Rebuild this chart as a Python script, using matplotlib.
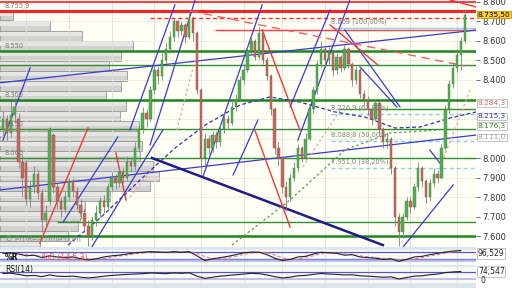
import matplotlib
matplotlib.use("Agg")
import matplotlib.pyplot as plt
from matplotlib.patches import Rectangle
import matplotlib.transforms as mtransforms
import numpy as np

# ---------------- data ----------------
opens = [8150,8200,8130,8220,8200,7980,7975,7790,7850,7920,7820,7680,7780,8120,7850,7780,7740,7800,7880,7830,
         7760,7720,7650,7600,7680,7720,7780,7750,7850,7900,7870,7930,7900,7980,7960,8050,8150,8230,8200,8350,
         8450,8420,8500,8560,8620,8700,8650,8680,8620,8720,8640,8350,8000,8100,8050,8120,8080,8150,8200,8180,
         8260,8300,8400,8450,8550,8600,8520,8640,8500,8420,8250,8050,8000,7850,7800,7900,7950,8050,8000,8100,
         8250,8350,8480,8560,8500,8540,8450,8520,8460,8560,8480,8400,8450,8330,8300,8250,8200,8280,8150,8080,
         8100,7950,7700,7620,7700,7780,7750,7850,7950,7880,7800,7870,7920,7900,8050,8250,8380,8460,8530,8600]
closes = [8200,8130,8220,8260,7980,7900,7790,7850,7920,7820,7680,7720,8150,7850,7780,7740,7800,7880,7830,7760,
          7720,7650,7600,7680,7720,7780,7750,7850,7900,7870,7930,7900,7980,7960,8050,8150,8230,8200,8350,8450,
          8420,8500,8560,8620,8700,8650,8680,8620,8720,8640,8350,8000,8100,8050,8120,8080,8150,8200,8180,8260,
          8300,8400,8450,8550,8600,8520,8640,8500,8420,8250,8050,8000,7850,7800,7900,7950,8050,8000,8100,8250,
          8350,8480,8560,8500,8540,8450,8520,8460,8560,8480,8400,8450,8330,8300,8250,8200,8280,8150,8080,8100,
          7950,7700,7620,7700,7780,7750,7850,7950,7880,7800,7870,7920,7900,8050,8250,8380,8460,8530,8600,8735.5]
highs = [8240,8220,8300,8310,8230,8020,7990,7880,7960,7940,7840,7760,8160,8130,7870,7800,7830,7900,7900,7850,
         7790,7740,7680,7700,7760,7800,7810,7870,7930,7920,7960,7950,8010,8000,8080,8170,8260,8250,8370,8480,
         8470,8540,8590,8650,8720,8710,8700,8690,8755,8730,8650,8360,8130,8120,8140,8140,8170,8230,8220,8290,
         8330,8420,8480,8570,8630,8610,8670,8650,8520,8430,8260,8080,8010,7880,7920,7980,8070,8060,8130,8270,
         8370,8500,8600,8570,8570,8550,8540,8530,8580,8570,8490,8470,8460,8350,8320,8260,8300,8290,8160,8130,
         8110,7960,7720,7720,7800,7800,7870,7980,7960,7890,7890,7950,7940,8070,8270,8400,8490,8560,8620,8765]
lows = [8120,8090,8110,8180,7950,7800,7760,7750,7820,7790,7620,7650,7760,7820,7740,7700,7720,7780,7800,7740,
        7690,7620,7550,7580,7650,7700,7720,7740,7830,7840,7850,7870,7880,7930,7940,8030,8130,8160,8190,8330,
        8380,8400,8480,8540,8600,8620,8630,8590,8610,8600,8330,7920,7960,8020,8030,8050,8060,8130,8150,8170,
        8240,8290,8380,8440,8530,8500,8510,8480,8400,8220,8020,7960,7820,7730,7780,7880,7930,7980,7990,8090,
        8230,8330,8460,8470,8480,8420,8430,8440,8450,8460,8370,8380,8310,8270,8220,8170,8190,8120,8050,8050,
        7920,7650,7550,7590,7680,7720,7740,7830,7850,7770,7780,7850,7870,7890,8040,8230,8360,8440,8450,8590]

price_ticks = [7600, 7700, 7800, 7900, 8000, 8100, 8200, 8300, 8400, 8500, 8600, 8700, 8800]
hidden_ticks = [8100, 8200, 8300]   # covered by the value boxes in the reference

# volume profile (bin bottoms, relative volume)
profile_bottom = [8705, 8653, 8602, 8551, 8499, 8448, 8397, 8345, 8294, 8243, 8192, 8140,
                  8089, 8038, 7987, 7935, 7884, 7833, 7781, 7730, 7679, 7628, 7576, 7525]
profile_volume = [13, 50, 82, 133, 121, 109, 127, 121, 106, 126, 120, 139,
                  138, 142, 140, 153, 159, 150, 110, 85, 80, 78, 68, 40]

# horizontal support / resistance levels
green_thick = [8550, 8300, 7600]
green_thin = [8477, 8150, 8000]
green_thin_partial = [(8250, 86.5), (7670, 14.0)]  # (price, start index)
red_levels = [8800, 8755.9]
red_dashed_level = (8718, 37.9)
red_thin_level = (8656, 54.6)
fib_levels = [8669.0, 8226.9, 8088.8, 7951.0]
fib_labels = ["8.669 (100,00%)", "8.226,9 (61,80%)", "8.088,8 (50,00%)", "7.951,0 (38,20%)"]
left_labels = [(8755.9, "8.755,9"), (8550, "8.550"), (8300, "8.300"), (8150, "8.150"), (8000, "8.000")]

# trend lines (index, price)
blue_lines = [((-1, 8385), (122, 8656)), ((-1, 7836), (122, 8118)),
              ((0, 8092), (7.0, 8462)), ((32.7, 8144), (44.3, 8785)), ((37.9, 8067), (49.5, 8810)),
              ((15.5, 7672), (29.6, 8108)), ((22.9, 7544), (41.2, 8144)), ((51.5, 7903), (66.8, 8785)),
              ((59.3, 7913), (65.7, 8195)), ((74.0, 8262), (84.3, 8759)), ((76.0, 8092), (89.4, 8810)),
              ((88.1, 8656), (102.3, 8262)), ((92.0, 8467), (101.5, 8262)), ((103.1, 7544), (116.0, 7862)),
              ((110.0, 8041), (112.6, 7974))]
navy_line = ((38.4, 8000), (97.9, 7554))
red_lines = [((9.5, 7564), (21.9, 8154)), ((66.8, 8656), (76.5, 8144)), ((64.9, 8144), (74.0, 7646)),
             ((84.3, 8682), (96.6, 8477)), ((115.2, 8810), (121.9, 8774)), ((29.1, 8026), (31.7, 7785))]
red_dash_line = ((48.2, 8754), (119.1, 8472))
pink_lines = [((32.7, 7800), (39.7, 7974)), ((77.3, 7954), (86.9, 8246)),
              ((113.1, 7979), (120.4, 8349)), ((44.8, 8144), (49.5, 8503))]
navy_dash_x = [16.75, 25.0, 35.3, 44.3, 52.1, 61.1, 68.8, 76.5, 85.6, 93.3, 101.0, 107.5, 115.2, 121.9]
navy_dash_y = [7554, 7692, 7887, 8051, 8169, 8272, 8313, 8287, 8236, 8210, 8154, 8159, 8205, 8236]
green_dash_x = [59.0, 74.0, 88.1, 99.7, 112.6]
green_dash_y = [7554, 7785, 8041, 8128, 8144]
vgrid = [6, 17, 28, 39, 51, 62, 72, 83, 94, 105, 117]

# oscillators (every second bar)
stoch_k = [70,75,64,47,53,30,47,36,30,36,19,8,19,36,47,53,64,75,81,87,83,79,87,81,87,47,2,19,30,42,
           58,75,83,81,58,25,2,13,36,42,64,81,75,70,53,58,36,30,25,13,19,-5,13,36,42,58,70,83,92,96.5]
stoch_d = [72,72,68,58,52,42,42,38,36,34,28,18,15,22,34,45,55,65,74,82,85,82,83,83,85,70,40,20,18,30,
           43,60,72,80,75,55,28,12,18,32,48,65,75,74,65,58,48,38,30,22,18,10,8,18,30,45,58,72,84,92]
rsi = [63,65,58,50,52,45,55,48,46,48,42,38,42,48,52,55,58,60,62,66,64,62,66,64,67,48,35,42,48,52,
       56,60,64,62,55,45,38,42,50,52,58,63,60,58,55,56,50,48,45,42,44,32,40,48,50,56,60,68,72,74.5]

# value boxes on the price scale: (placement price, text, text colour, face, edge)
right_boxes = [(8735.5, "8.735,50", "#000000", "#ffcc33", "#c89600"),
               (8282.0, "8.284,3", "#e06666", "#ffffff", "#bbbbbb"),
               (8213.0, "8.215,3", "#3333aa", "#ffffff", "#bbbbbb"),
               (8163.0, "8.176,3", "#338833", "#ffffff", "#bbbbbb"),
               (8106.0, "8.111,0", "#a0a0a0", "#ffffff", "#bbbbbb")]

# ---------------- figure ----------------
def fmt(v):
    return f"{v:,.0f}".replace(",", ".")

fig = plt.figure(figsize=(5.12, 2.88), dpi=100, facecolor="white")
fig.patches.append(Rectangle((0, 0), 476/512, 41/288, transform=fig.transFigure,
                             facecolor="#dbe7ee", edgecolor="none", zorder=-5))
rect_main = [0, 41/288, 476/512, 247/288]
YLIM = (7544, 8810)
XLIM = (-0.77, 121.9)

axp = fig.add_axes(rect_main)
axp.set_facecolor("#fffff5")
axp.set_xlim(0, 476)
axp.set_ylim(*YLIM)
axp.barh(profile_bottom, profile_volume, height=51.3, align="edge", left=0,
         color="#d2d2d0", edgecolor="#999997", linewidth=0.6)
axp.barh([b + 24 for b in profile_bottom], profile_volume, height=22, align="edge", left=0,
         color="#e6e6e4", edgecolor="none")
axp.set_xticks([]); axp.set_yticks([])
for s in axp.spines.values():
    s.set_visible(False)

ax = fig.add_axes(rect_main)
ax.set_facecolor("none")
ax.set_xlim(*XLIM)
ax.set_ylim(*YLIM)
for s in ax.spines.values():
    s.set_visible(False)
ax.set_xticks([])
ax.yaxis.tick_right()
ax.set_yticks(price_ticks)
ax.set_yticklabels(["" if v in hidden_ticks else fmt(v) for v in price_ticks])
ax.tick_params(axis="y", labelsize=6, length=3, width=0.6, color="#555555",
               labelcolor="#333333", pad=1.5)

for v in price_ticks:
    ax.axhline(v, color="#ebebe0", lw=0.6, zorder=0.5)
for xg in vgrid:
    ax.axvline(xg, color="#e0e0d6", lw=0.6, zorder=0.5)

# horizontal levels
for v in green_thick:
    ax.axhline(v, color="#1e861e", lw=1.8, zorder=3)
for v in green_thin:
    ax.axhline(v, color="#2f8f2f", lw=1.0, zorder=3)
for v, x0 in green_thin_partial:
    ax.hlines(v, x0, XLIM[1], color="#2f8f2f", lw=1.0, zorder=3)
ax.axhline(red_levels[0], color="#ff3030", lw=1.3, zorder=3)
ax.axhline(red_levels[1], color="#ff2020", lw=2.2, zorder=3)
ax.hlines(red_dashed_level[0], red_dashed_level[1], XLIM[1], color="#ff3030", lw=1.0,
          linestyles=(0, (3, 2)), zorder=3)
ax.hlines(red_thin_level[0], red_thin_level[1], XLIM[1], color="#ff4040", lw=1.0, zorder=3)

# fib levels
fx0 = 84.5
for i, (v, lab) in enumerate(zip(fib_levels, fib_labels)):
    ls = "-" if i == 0 else (0, (3, 2))
    ax.hlines(v, fx0, XLIM[1], color="#8ed0f4", lw=1.0, linestyles=ls, zorder=3)
    ax.text(fx0, v + 12, lab, fontsize=4.8, color="#808080", va="bottom", ha="left", zorder=6)

for v, lab in left_labels:
    ax.text(0.5, v + 8, lab, fontsize=4.8, color="#7a7a7a", va="bottom", ha="left", zorder=6)

# trend lines
for (a, b) in blue_lines:
    ax.plot([a[0], b[0]], [a[1], b[1]], color="#3a3ad0", lw=0.9, zorder=4)
ax.plot([navy_line[0][0], navy_line[1][0]], [navy_line[0][1], navy_line[1][1]],
        color="#1c1c8c", lw=1.8, zorder=4)
for (a, b) in red_lines:
    ax.plot([a[0], b[0]], [a[1], b[1]], color="#f03838", lw=1.0, zorder=4)
ax.plot([red_dash_line[0][0], red_dash_line[1][0]], [red_dash_line[0][1], red_dash_line[1][1]],
        color="#f06060", lw=1.0, ls=(0, (6, 4)), zorder=4)
for (a, b) in pink_lines:
    ax.plot([a[0], b[0]], [a[1], b[1]], color="#f4a0a0", lw=0.9, ls=(0, (2, 2)), zorder=4)
ax.plot(navy_dash_x, navy_dash_y, color="#3030b0", lw=0.9, ls=(0, (3, 2)), zorder=4)
ax.plot(green_dash_x, green_dash_y, color="#5a9a5a", lw=0.9, ls=(0, (2, 2)), zorder=4)

# candles
idx = np.arange(len(closes))
o = np.array(opens); c = np.array(closes)
up = c >= o
ax.vlines(idx, lows, highs, color="#808080", lw=0.6, zorder=5)
ax.bar(idx[up], (c - o)[up], bottom=o[up], width=0.62, color="#52b052",
       edgecolor="#3d7d3d", linewidth=0.3, zorder=5)
ax.bar(idx[~up], (o - c)[~up], bottom=c[~up], width=0.62, color="#c46a62",
       edgecolor="#8a4a44", linewidth=0.3, zorder=5)

ax.text(0.5, 7570, "\u00a9 ProRealTime.com", fontsize=5.5, color="#909090", zorder=6)

# right boxes
trans = mtransforms.blended_transform_factory(ax.transAxes, ax.transData)
for v, lab, tc, fc, ec in right_boxes:
    ax.text(1.004, v, lab, transform=trans, fontsize=5.3, color=tc, va="center", ha="left",
            zorder=10, clip_on=False,
            bbox=dict(boxstyle="square,pad=0.1", facecolor=fc, edgecolor=ec, lw=0.6))

# ---------------- oscillators ----------------
xs = idx[::2]
ax1 = fig.add_axes([0, 23/288, 476/512, 15/288])
ax1.set_facecolor("#fbfbf3")
ax1.set_xlim(*XLIM); ax1.set_ylim(-40, 102)
ax1.set_xticks([]); ax1.set_yticks([])
for s in ax1.spines.values():
    s.set_visible(False)
for xg in vgrid:
    ax1.axvline(xg, color="#e0e0d6", lw=0.6)
ax1.axhline(80, color="#5555dd", lw=0.9)
ax1.axhline(20, color="#7b7be0", lw=1.0)
ax1.axhline(0, color="#b4b4ee", lw=1.2)
ax1.plot(xs, stoch_d, color="#f08080", lw=0.8, ls=(0, (3, 2)))
ax1.plot(xs, stoch_k, color="#222222", lw=0.8)
ax1.text(0.5, 30, "%R", fontsize=5.5, color="#111111", fontweight="bold", va="center")
ax1.text(10, 30, "%D (14,5,3)", fontsize=5.5, color="#ee5555", va="center")
t1 = mtransforms.blended_transform_factory(ax1.transAxes, ax1.transData)
ax1.text(1.004, 70, "96,529", transform=t1, fontsize=5.5, color="#222222", va="center",
         clip_on=False, bbox=dict(boxstyle="square,pad=0.1", facecolor="white", edgecolor="#bbbbbb", lw=0.6))

ax2 = fig.add_axes([0, 5/288, 476/512, 16/288])
ax2.set_facecolor("#fbfbf3")
ax2.set_xlim(*XLIM); ax2.set_ylim(9, 100)
ax2.set_xticks([]); ax2.set_yticks([])
for s in ax2.spines.values():
    s.set_visible(False)
for xg in vgrid:
    ax2.axvline(xg, color="#e0e0d6", lw=0.6)
ax2.axhline(70, color="#5555dd", lw=0.9)
ax2.axhline(30, color="#b4b4ee", lw=1.2)
ax2.plot(xs, rsi, color="#222222", lw=0.8)
ax2.text(0.5, 85, "RSI(14)", fontsize=5.5, color="#111111", va="center")
t2 = mtransforms.blended_transform_factory(ax2.transAxes, ax2.transData)
ax2.text(1.004, 74, "74,547", transform=t2, fontsize=5.5, color="#222222", va="center",
         clip_on=False, bbox=dict(boxstyle="square,pad=0.1", facecolor="white", edgecolor="#bbbbbb", lw=0.6))
ax2.text(1.01, 22, "0", transform=t2, fontsize=5.5, color="#222222", va="center", clip_on=False)

fig.savefig("out.png", dpi=100, facecolor=fig.get_facecolor())
